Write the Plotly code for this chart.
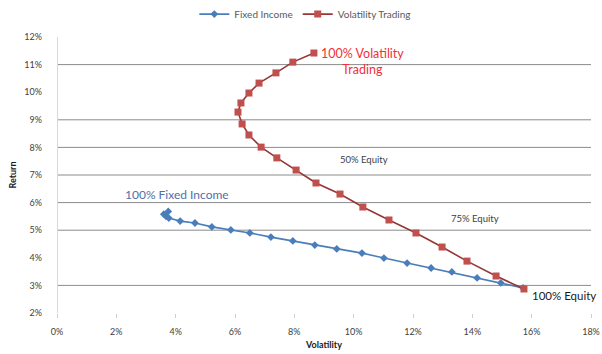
import plotly.graph_objects as go

# Efficient-frontier style curves: volatility (x, %) vs return (y, %)
fixed_income_vol = [3.60, 3.75, 3.68, 3.77, 4.15, 4.65, 5.22, 5.86, 6.50, 7.21, 7.95,
                    8.69, 9.43, 10.28, 11.02, 11.80, 12.61, 13.31, 14.16, 14.96, 15.71]
fixed_income_ret = [5.58, 5.68, 5.50, 5.44, 5.33, 5.26, 5.12, 5.01, 4.90, 4.75, 4.61,
                    4.46, 4.32, 4.17, 3.99, 3.81, 3.63, 3.49, 3.27, 3.09, 2.91]

vol_trading_vol = [8.66, 7.95, 7.38, 6.81, 6.47, 6.20, 6.10, 6.24, 6.47, 6.88, 7.41,
                   8.06, 8.73, 9.54, 10.31, 11.19, 12.10, 12.98, 13.82, 14.80, 15.74]
vol_trading_ret = [11.42, 11.09, 10.70, 10.33, 9.97, 9.61, 9.28, 8.85, 8.45, 8.01, 7.62,
                   7.18, 6.71, 6.31, 5.84, 5.37, 4.90, 4.39, 3.88, 3.34, 2.87]

x_ticks = [0, 2, 4, 6, 8, 10, 12, 14, 16, 18]
y_ticks = [2, 3, 4, 5, 6, 7, 8, 9, 10, 11, 12]
grid_levels = [3, 5, 6, 7, 8, 9, 11]

FONT = "Lato, 'Liberation Sans', sans-serif"

fig = go.Figure()
fig.add_trace(go.Scatter(
    x=fixed_income_vol, y=fixed_income_ret, name="Fixed Income",
    mode="lines+markers",
    line=dict(color="#4a7ebb", width=1.6),
    marker=dict(symbol="diamond", size=6, color="#4a7ebb"),
))
fig.add_trace(go.Scatter(
    x=vol_trading_vol, y=vol_trading_ret, name="Volatility Trading",
    mode="lines+markers",
    line=dict(color="#953735", width=1.6),
    marker=dict(symbol="square", size=7, color="#c0504d"),
))

shapes = [
    dict(type="line", xref="paper", yref="y", x0=0, x1=1, y0=g, y1=g,
         line=dict(color="#8c8c8c", width=1), layer="below")
    for g in grid_levels
]
shapes.append(dict(type="line", xref="x", yref="paper", x0=0, x1=0, y0=0, y1=1,
                   line=dict(color="#d9d9d9", width=2), layer="below"))

annotations = [
    dict(x=vol_trading_vol[0], y=vol_trading_ret[0], xref="x", yref="y",
         text="100% Volatility<br>Trading", showarrow=False, xanchor="left",
         yanchor="top", xshift=5, yshift=9, align="center",
         font=dict(family=FONT, size=12.5, color="#f0303a")),
    dict(x=fixed_income_vol[1], y=fixed_income_ret[1], xref="x", yref="y",
         text="100% Fixed Income", showarrow=False, xanchor="center",
         yanchor="bottom", xshift=9, yshift=7,
         font=dict(family=FONT, size=12, color="#4f6fa8")),
    dict(x=fixed_income_vol[-1], y=fixed_income_ret[-1], xref="x", yref="y",
         text="100% Equity", showarrow=False, xanchor="left", yanchor="middle",
         xshift=7, yshift=-8,
         font=dict(family=FONT, size=11.5, color="#1a1a1a")),
    dict(x=10.35, y=7.55, xref="x", yref="y", text="50% Equity", showarrow=False,
         font=dict(family=FONT, size=9.5, color="#404040")),
    dict(x=14.1, y=5.42, xref="x", yref="y", text="75% Equity", showarrow=False,
         font=dict(family=FONT, size=9.5, color="#404040")),
]

fig.update_layout(
    width=602, height=354,
    margin=dict(l=57, r=11, t=37, b=41, autoexpand=False),
    paper_bgcolor="white", plot_bgcolor="white",
    font=dict(family=FONT, size=9, color="#404040"),
    showlegend=True,
    legend=dict(orientation="h", x=0.465, xanchor="center", y=1.083, yanchor="middle",
                font=dict(family=FONT, size=10, color="#595959"),
                itemwidth=30, tracegroupgap=0),
    shapes=shapes,
    annotations=annotations,
    xaxis=dict(range=[0, 18], tickvals=x_ticks, ticktext=[f"{v}%" for v in x_ticks],
               showgrid=False, zeroline=False, showline=False,
               ticks="outside", ticklen=4, tickcolor="#d0d0d0",
               ticklabelstandoff=6,
               title=dict(text="<b>Volatility</b>", standoff=5,
                          font=dict(family=FONT, size=9, color="#1a1a1a"))),
    yaxis=dict(range=[2, 12], tickvals=y_ticks, ticktext=[f"{v}%" for v in y_ticks],
               showgrid=False, zeroline=False, showline=False, ticks="",
               ticklabelstandoff=14,
               title=dict(text="<b>Return</b>", standoff=6,
                          font=dict(family=FONT, size=9, color="#1a1a1a"))),
)

fig.write_html("out.html")
